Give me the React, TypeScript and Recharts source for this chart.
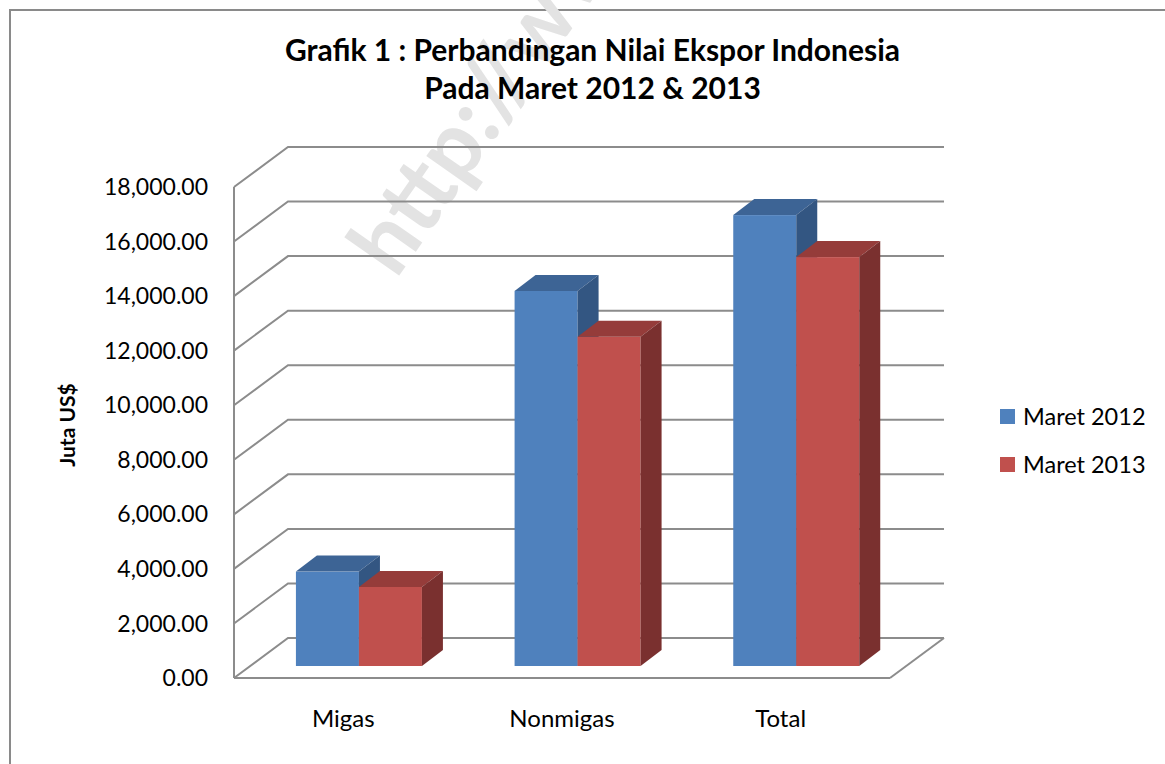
import { Bar, BarChart, CartesianGrid, Legend, XAxis, YAxis } from "recharts";

const categories = ["Migas", "Nonmigas", "Total"];
const maret2012 = [3460, 13750, 16530];
const maret2013 = [2900, 12070, 14990];
const yTicks = [0, 2000, 4000, 6000, 8000, 10000, 12000, 14000, 16000, 18000];

const data = categories.map((name, i) => ({
  name,
  maret2012: maret2012[i],
  maret2013: maret2013[i],
}));

const FONT = "Lato, 'Open Sans', sans-serif";
const GRID = "#8c8c8c";

// 3D wall offsets (front plane -> back wall)
const WALL_DX = 54;
const WALL_DY = 40;
// bars sit a bit behind the front plane and have their own depth
const SHIFT_X = 16;
const SHIFT_Y = 12;
const BAR_DX = 21;
const BAR_DY = 16;

function Bar3D(props: any) {
  const { x, y, width, height, front, top, side } = props;
  const fx = x + SHIFT_X;
  const fy = y - SHIFT_Y;
  return (
    <g>
      <rect x={fx} y={fy} width={width} height={height} fill={front} />
      <polygon
        points={`${fx},${fy} ${fx + BAR_DX},${fy - BAR_DY} ${fx + width + BAR_DX},${fy - BAR_DY} ${fx + width},${fy}`}
        fill={top}
      />
      <polygon
        points={`${fx + width},${fy} ${fx + width + BAR_DX},${fy - BAR_DY} ${fx + width + BAR_DX},${fy + height - BAR_DY} ${fx + width},${fy + height}`}
        fill={side}
      />
    </g>
  );
}

function gridLine(props: any) {
  const { x1, y1, x2, index } = props;
  const bx1 = x1 + WALL_DX;
  const by = y1 - WALL_DY;
  return (
    <g key={`grid-${index}`}>
      <polyline
        points={`${x1},${y1} ${bx1},${by} ${x2 + WALL_DX},${by}`}
        fill="none"
        stroke={GRID}
        strokeWidth={2}
      />
      {index === 0 && (
        <line x1={x2} y1={y1} x2={x2 + WALL_DX} y2={by} stroke={GRID} strokeWidth={2} />
      )}
    </g>
  );
}

function LegendContent(props: any) {
  const { payload } = props;
  return (
    <div style={{ fontFamily: FONT, fontSize: 23.5, color: "#000" }}>
      {(payload || []).map((entry: any) => (
        <div key={entry.value} style={{ display: "flex", alignItems: "center", height: 48 }}>
          <span
            style={{ width: 15, height: 15, background: entry.color, marginRight: 8, display: "inline-block" }}
          />
          {entry.value}
        </div>
      ))}
    </div>
  );
}

function formatNumber(value: number) {
  return value.toLocaleString("en-US", { minimumFractionDigits: 2, maximumFractionDigits: 2 });
}

export default function App() {
  return (
    <div
      style={{
        position: "absolute",
        left: 0,
        top: 0,
        width: 1165,
        height: 764,
        overflow: "hidden",
        background: "#fff",
        fontFamily: FONT,
      }}
    >
      <div
        style={{
          position: "absolute",
          left: 9,
          top: 9,
          width: 1200,
          height: 800,
          border: "2px solid #8a8a8a",
        }}
      />
      <svg width={1165} height={764} style={{ position: "absolute", left: 0, top: 0 }}>
        <text
          x={396}
          y={280}
          transform="rotate(-55 396 280)"
          fontSize={90}
          fontWeight={700}
          fontFamily={FONT}
          fill="#e3e3e3"
        >
          http://www.
        </text>
      </svg>
      <div
        style={{
          position: "absolute",
          left: 0,
          top: 30,
          width: 1185,
          textAlign: "center",
          fontSize: 30,
          fontWeight: 700,
          lineHeight: "38px",
          color: "#000",
        }}
      >
        Grafik 1 : Perbandingan Nilai Ekspor Indonesia
        <br />
        Pada Maret 2012 &amp; 2013
      </div>
      <div style={{ position: "absolute", left: 0, top: 0 }}>
        <BarChart
          width={1165}
          height={764}
          data={data}
          margin={{ top: 187, right: 275, bottom: 0, left: 0 }}
          barCategoryGap="21%"
          barGap={0}
        >
          <CartesianGrid vertical={false} horizontal={gridLine} />
          <XAxis
            dataKey="name"
            height={86}
            tickLine={false}
            tickSize={0}
            tickMargin={32}
            axisLine={{ stroke: GRID, strokeWidth: 2 }}
            tick={{ fill: "#000", fontSize: 24, fontFamily: FONT }}
          />
          <YAxis
            width={234}
            domain={[0, 18000]}
            ticks={yTicks}
            interval={0}
            tickLine={false}
            tickSize={0}
            tickMargin={26}
            tickFormatter={formatNumber}
            axisLine={{ stroke: GRID, strokeWidth: 2 }}
            tick={{ fill: "#000", fontSize: 23, fontFamily: FONT }}
            label={{
              content: () => (
                <text
                  x={66}
                  y={425}
                  transform="rotate(-90 66 425)"
                  textAnchor="middle"
                  dominantBaseline="central"
                  fontSize={21}
                  fontWeight={700}
                  fontFamily={FONT}
                  fill="#000"
                >
                  Juta US$
                </text>
              ),
            }}
          />
          <Legend
            layout="vertical"
            align="center"
            verticalAlign="middle"
            content={LegendContent}
            wrapperStyle={{ left: 1000, top: 392, width: 165 }}
          />
          <Bar
            dataKey="maret2012"
            name="Maret 2012"
            fill="#4f81bd"
            isAnimationActive={false}
            shape={(p: any) => <Bar3D {...p} front="#4f81bd" top="#3d6495" side="#335682" />}
          />
          <Bar
            dataKey="maret2013"
            name="Maret 2013"
            fill="#c0504d"
            isAnimationActive={false}
            shape={(p: any) => <Bar3D {...p} front="#c0504d" top="#953c3a" side="#7a302f" />}
          />
        </BarChart>
      </div>
    </div>
  );
}
